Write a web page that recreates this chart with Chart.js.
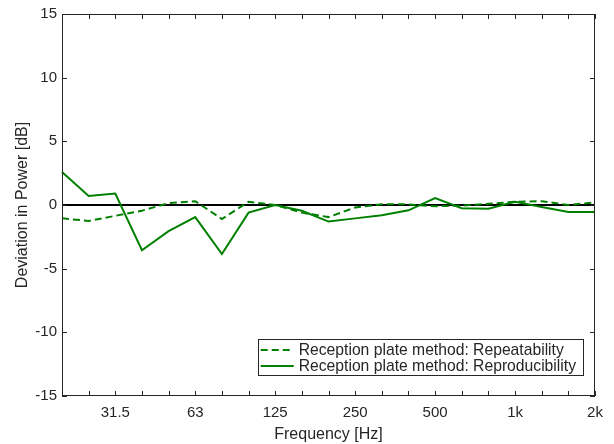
<!DOCTYPE html>
<html>
<head>
<meta charset="utf-8">
<script src="https://cdn.jsdelivr.net/npm/chart.js@4/dist/chart.umd.min.js"></script>
<style>
  body { margin: 0; background: #fff; }
</style>
</head>
<body>
<canvas id="chart" width="614" height="444"></canvas>
<script>
// third-octave bands 20 Hz .. 2 kHz
const bands = ["20", "25", "31.5", "40", "50", "63", "80", "100", "125", "160", "200",
  "250", "315", "400", "500", "630", "800", "1k", "1.25k", "1.6k", "2k"];
const shownLabels = ["31.5", "63", "125", "250", "500", "1k", "2k"];
const yTicks = [-15, -10, -5, 0, 5, 10, 15];

const repeatability = [-1.05, -1.25, -0.85, -0.45, 0.15, 0.3, -1.1, 0.25, 0.0, -0.6, -0.95,
  -0.2, 0.05, 0.05, -0.1, -0.05, 0.1, 0.25, 0.3, 0.0, 0.2];
const reproducibility = [2.6, 0.7, 0.9, -3.55, -2.05, -0.95, -3.85, -0.6, 0.0, -0.45, -1.3,
  -1.05, -0.8, -0.42, 0.55, -0.25, -0.3, 0.25, -0.15, -0.55, -0.55];

const seriesNames = ["Reception plate method: Repeatability", "Reception plate method: Reproducibility"];

const green = "#008000";
const txt = "#262626";
const fontFam = "'Liberation Sans', Arial, Helvetica, sans-serif";

// box frame, inward ticks and legend inside the axes
const axesBox = {
  id: "axesBox",
  afterDraw(chart) {
    const { ctx, chartArea: a, scales } = chart;
    const x = scales.x, y = scales.y;
    ctx.save();
    ctx.strokeStyle = txt;
    ctx.lineWidth = 1;
    ctx.beginPath();
    bands.forEach((b, i) => {
      const px = Math.round(x.getPixelForValue(i)) + 0.5;
      ctx.moveTo(px, a.bottom); ctx.lineTo(px, a.bottom - 5);
      ctx.moveTo(px, a.top); ctx.lineTo(px, a.top + 5);
    });
    yTicks.forEach((v) => {
      const py = Math.round(y.getPixelForValue(v)) + 0.5;
      ctx.moveTo(a.left, py); ctx.lineTo(a.left + 5, py);
      ctx.moveTo(a.right, py); ctx.lineTo(a.right - 5, py);
    });
    ctx.stroke();
    ctx.strokeRect(Math.round(a.left) + 0.5, Math.round(a.top) + 0.5,
      Math.round(a.right - a.left) - 1, Math.round(a.bottom - a.top) - 1);

    // legend
    ctx.font = "15.7px " + fontFam;
    const tw = Math.max(...seriesNames.map((s) => ctx.measureText(s).width));
    const boxR = a.right - 12, boxB = a.bottom - 21;
    const boxW = 3 + 33 + 5 + tw + 7, boxH = 36;
    const boxL = boxR - boxW, boxT = boxB - boxH;
    ctx.fillStyle = "#fff";
    ctx.fillRect(boxL, boxT, boxW, boxH);
    ctx.strokeStyle = txt;
    ctx.strokeRect(Math.round(boxL) + 0.5, Math.round(boxT) + 0.5, Math.round(boxW), Math.round(boxH));
    ctx.textBaseline = "middle";
    ctx.textAlign = "left";
    seriesNames.forEach((s, i) => {
      const ry = boxT + 11 + i * 16;
      ctx.strokeStyle = green;
      ctx.lineWidth = 2;
      ctx.setLineDash(i === 0 ? [7, 4] : []);
      ctx.beginPath();
      ctx.moveTo(boxL + 3, ry); ctx.lineTo(boxL + 36, ry);
      ctx.stroke();
      ctx.setLineDash([]);
      ctx.fillStyle = txt;
      ctx.fillText(s, boxL + 41, ry + 1);
    });
    ctx.restore();
  }
};

new Chart(document.getElementById("chart").getContext("2d"), {
  type: "line",
  data: {
    labels: bands,
    datasets: [
      {
        label: seriesNames[0],
        data: repeatability,
        borderColor: green,
        borderWidth: 2,
        borderDash: [7, 4],
        pointRadius: 0,
        tension: 0,
        fill: false,
      },
      {
        label: seriesNames[1],
        data: reproducibility,
        borderColor: green,
        borderWidth: 2,
        pointRadius: 0,
        tension: 0,
        fill: false,
      },
    ],
  },
  options: {
    responsive: false,
    animation: false,
    layout: { padding: { top: 14, right: 19, left: 0, bottom: 0 } },
    plugins: {
      legend: { display: false },
      tooltip: { enabled: false },
    },
    scales: {
      x: {
        type: "category",
        offset: false,
        afterFit: (s) => { s.height = 48; },
        grid: { display: false, drawTicks: false },
        border: { display: false },
        ticks: {
          autoSkip: false,
          maxRotation: 0,
          padding: 8,
          color: txt,
          font: { family: fontFam, size: 15 },
          callback: function (val, i) {
            return shownLabels.includes(bands[i]) ? bands[i] : "";
          },
        },
        title: {
          display: true,
          text: "Frequency [Hz]",
          color: txt,
          font: { family: fontFam, size: 16 },
          padding: { top: 0, bottom: 0 },
        },
      },
      y: {
        min: -15,
        max: 15,
        afterFit: (s) => { s.width = 62; },
        afterBuildTicks: (s) => { s.ticks = yTicks.map((v) => ({ value: v })); },
        grid: {
          drawTicks: false,
          color: (c) => (c.tick && c.tick.value === 0 ? "#000" : "rgba(0,0,0,0)"),
          lineWidth: (c) => (c.tick && c.tick.value === 0 ? 2 : 0),
        },
        border: { display: false },
        ticks: {
          padding: 5,
          color: txt,
          font: { family: fontFam, size: 15 },
        },
        title: {
          display: true,
          text: "Deviation in Power [dB]",
          color: txt,
          font: { family: fontFam, size: 16 },
          padding: { top: 13, bottom: 0 },
        },
      },
    },
  },
  plugins: [axesBox],
});
</script>
</body>
</html>
